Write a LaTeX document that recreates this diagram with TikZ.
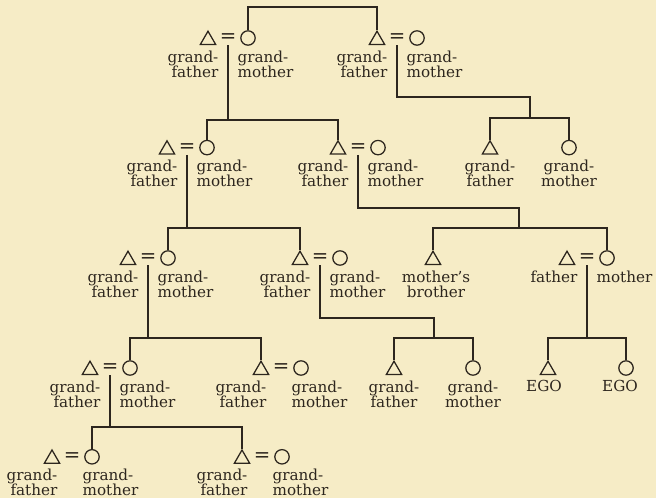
\documentclass[tikz,border=0pt]{standalone}
\usepackage{tikz}
\usepackage{fontspec}
\setmainfont{DejaVu Serif}
\usetikzlibrary{positioning,shapes.geometric}
\definecolor{paper}{RGB}{246,236,198}
\definecolor{ink}{RGB}{45,38,30}

\begin{document}
\begin{tikzpicture}[
  color=ink, line width=0.9pt,
  font=\fontsize{10.8}{10.8}\selectfont,
  man/.style={draw, regular polygon, regular polygon sides=3, inner sep=0pt, minimum size=0.44cm, yshift=-0.05cm},
  woman/.style={draw, circle, inner sep=0pt, minimum size=0.36cm},
  eq/.style={inner sep=0pt, font=\fontsize{14}{14}\selectfont},
  lft/.style={anchor=north east, align=right, inner sep=0pt},
  rgt/.style={anchor=north west, align=left, inner sep=0pt},
  ctr/.style={anchor=north, align=center, inner sep=0pt}
]
\path[use as bounding box, fill=paper] (0,0) rectangle (16.4,-12.45);

% first row
\node[man] (mA) at (5.2,-0.95) {};
\node[eq] (eA) at (5.7,-0.95) {=};
\node[woman] (wA) at (6.2,-0.95) {};
\node[lft] (fA) at (5.475,-1.25) {grand-\\father};
\node[rgt] (gA) at (5.925,-1.25) {grand-\\mother};

\node[man] (mB) at (9.425,-0.95) {};
\node[eq] (eB) at (9.925,-0.95) {=};
\node[woman] (wB) at (10.425,-0.95) {};
\node[lft] (fB) at (9.7,-1.25) {grand-\\father};
\node[rgt] (gB) at (10.15,-1.25) {grand-\\mother};

% second row
\node[man] (mC) at (4.175,-3.69) {};
\node[eq] (eC) at (4.675,-3.69) {=};
\node[woman] (wC) at (5.175,-3.69) {};
\node[lft] (fC) at (4.45,-3.99) {grand-\\father};
\node[rgt] (gC) at (4.9,-3.99) {grand-\\mother};

\node[man] (mD) at (8.45,-3.69) {};
\node[eq] (eD) at (8.95,-3.69) {=};
\node[woman] (wD) at (9.45,-3.69) {};
\node[lft] (fD) at (8.725,-3.99) {grand-\\father};
\node[rgt] (gD) at (9.175,-3.99) {grand-\\mother};

\node[man] (mB1) at (12.25,-3.69) {};
\node[ctr] (fB1) at (12.25,-3.99) {grand-\\father};
\node[woman] (wB1) at (14.225,-3.69) {};
\node[ctr] (gB1) at (14.225,-3.99) {grand-\\mother};

% third row
\node[man] (mE) at (3.2,-6.45) {};
\node[eq] (eE) at (3.7,-6.45) {=};
\node[woman] (wE) at (4.2,-6.45) {};
\node[lft] (fE) at (3.475,-6.75) {grand-\\father};
\node[rgt] (gE) at (3.925,-6.75) {grand-\\mother};

\node[man] (mF) at (7.5,-6.45) {};
\node[eq] (eF) at (8.0,-6.45) {=};
\node[woman] (wF) at (8.5,-6.45) {};
\node[lft] (fF) at (7.775,-6.75) {grand-\\father};
\node[rgt] (gF) at (8.225,-6.75) {grand-\\mother};

\node[man] (mMB) at (10.825,-6.45) {};
\node[ctr] (lMB) at (10.9,-6.75) {mother's\\brother};

\node[man] (mG) at (14.175,-6.45) {};
\node[eq] (eG) at (14.675,-6.45) {=};
\node[woman] (wG) at (15.175,-6.45) {};
\node[lft] (fG) at (14.45,-6.75) {father};
\node[rgt] (gG) at (14.9,-6.75) {mother};

% fourth row
\node[man] (mH) at (2.25,-9.2) {};
\node[eq] (eH) at (2.75,-9.2) {=};
\node[woman] (wH) at (3.25,-9.2) {};
\node[lft] (fH) at (2.525,-9.5) {grand-\\father};
\node[rgt] (gH) at (2.975,-9.5) {grand-\\mother};

\node[man] (mI) at (6.525,-9.2) {};
\node[eq] (eI) at (7.025,-9.2) {=};
\node[woman] (wI) at (7.525,-9.2) {};
\node[lft] (fI) at (6.675,-9.5) {grand-\\father};
\node[rgt] (gI) at (7.275,-9.5) {grand-\\mother};

\node[man] (mF1) at (9.85,-9.2) {};
\node[ctr] (fF1) at (9.85,-9.5) {grand-\\father};
\node[woman] (wF1) at (11.825,-9.2) {};
\node[ctr] (gF1) at (11.825,-9.5) {grand-\\mother};

\node[man] (mEgo) at (13.7,-9.2) {};
\node[ctr] (lEgo1) at (13.6,-9.5) {EGO};
\node[woman] (wEgo) at (15.65,-9.2) {};
\node[ctr] (lEgo2) at (15.5,-9.5) {EGO};

% fifth row
\node[man] (mJ) at (1.3,-11.42) {};
\node[eq] (eJ) at (1.8,-11.42) {=};
\node[woman] (wJ) at (2.3,-11.42) {};
\node[lft] (fJ) at (1.45,-11.7) {grand-\\father};
\node[rgt] (gJ) at (2.05,-11.7) {grand-\\mother};

\node[man] (mK) at (6.05,-11.42) {};
\node[eq] (eK) at (6.55,-11.42) {=};
\node[woman] (wK) at (7.05,-11.42) {};
\node[lft] (fK) at (6.2,-11.7) {grand-\\father};
\node[rgt] (gK) at (6.8,-11.7) {grand-\\mother};

% junctions
\coordinate (top) at (7.8,-0.175);
\coordinate (jA) at (5.7,-3.0);
\coordinate (kB) at (13.25,-2.425);
\coordinate (jB) at (13.25,-2.95);
\coordinate (jC) at (4.675,-5.7);
\coordinate (kD) at (12.975,-5.2);
\coordinate (jD) at (12.975,-5.7);
\coordinate (jE) at (3.7,-8.45);
\coordinate (kF) at (10.85,-7.95);
\coordinate (jF) at (10.85,-8.45);
\coordinate (jG) at (14.675,-8.45);
\coordinate (jH) at (2.75,-10.675);

\draw (wA.north) |- (top) -| (mB.north);
\draw ([yshift=-0.18cm]eA.center) -- (jA);
\draw (wC.north) |- (jA) -| (mD.north);
\draw ([yshift=-0.18cm]eB.center) |- (kB) -- (jB);
\draw (mB1.north) |- (jB) -| (wB1.north);
\draw ([yshift=-0.18cm]eC.center) -- (jC);
\draw (wE.north) |- (jC) -| (mF.north);
\draw ([yshift=-0.18cm]eD.center) |- (kD) -- (jD);
\draw (mMB.north) |- (jD) -| (wG.north);
\draw ([yshift=-0.18cm]eE.center) -- (jE);
\draw (wH.north) |- (jE) -| (mI.north);
\draw ([yshift=-0.18cm]eF.center) |- (kF) -- (jF);
\draw (mF1.north) |- (jF) -| (wF1.north);
\draw ([yshift=-0.18cm]eG.center) -- (jG);
\draw (mEgo.north) |- (jG) -| (wEgo.north);
\draw ([yshift=-0.18cm]eH.center) -- (jH);
\draw (wJ.north) |- (jH) -| (mK.north);

\end{tikzpicture}
\end{document}
